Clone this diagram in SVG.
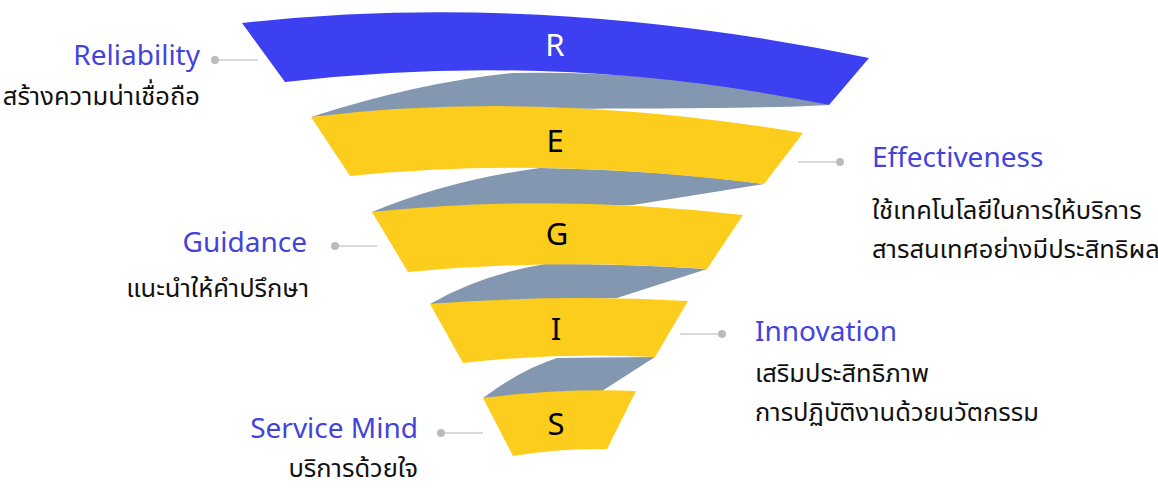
<svg xmlns="http://www.w3.org/2000/svg" width="1158" height="490" viewBox="0 0 1158 490">
<style>
.bg{fill:#ffffff}
.twist{fill:#8497b0}
.blue{fill:#3d40f0}
.yellow{fill:#fccd1c}
.letter{font-family:"Noto Sans","Open Sans","DejaVu Sans",sans-serif;font-size:31px;text-anchor:middle}
.title{font-family:"Noto Sans","Open Sans","DejaVu Sans",sans-serif;font-size:28px;fill:#4343dc}
.thai{font-family:"Noto Sans","Noto Sans Thai","DejaVu Sans",sans-serif;font-size:25.5px;fill:#111111}
.lead{stroke:#cccccc;stroke-width:1.5;fill:none}
.dot{fill:#bbbbbb}
.end{text-anchor:end}
</style>
<rect class="bg" x="0" y="0" width="1158" height="490"/>
<g id="connectors">
  <path class="twist" d="M311,117 Q420,82 513,73 Q680,70 829,105 C700,112 500,104 311,117 Z"/>
  <path class="twist" d="M372,212 Q450,180 540,168 Q660,170 764,184 L633,205 Z"/>
  <path class="twist" d="M430,304 Q480,275 545,264 Q630,264 707,269 L617,298 Z"/>
  <path class="twist" d="M483,398 Q520,370 557,358 L655,357 L602,391 Z"/>
  <line class="lead" x1="215" y1="60" x2="258" y2="60"/>
  <circle class="dot" cx="215" cy="60" r="4"/>
  <line class="lead" x1="798" y1="162" x2="840" y2="162"/>
  <circle class="dot" cx="840" cy="162" r="4"/>
  <line class="lead" x1="335" y1="246" x2="377" y2="246"/>
  <circle class="dot" cx="335" cy="246" r="4"/>
  <line class="lead" x1="680" y1="334" x2="722" y2="334"/>
  <circle class="dot" cx="722" cy="334" r="4"/>
  <line class="lead" x1="441" y1="433" x2="483" y2="433"/>
  <circle class="dot" cx="441" cy="433" r="4"/>
</g>
<g id="node-R">
  <path class="blue" d="M242,23 Q540,-10 869,58 L829,105 Q560,50 285,82 Z"/>
  <text class="letter" x="555" y="56" fill="#ffffff">R</text>
  <text class="title end" x="200" y="65">Reliability</text>
  <text class="thai end" x="200" y="105">สร้างความน่าเชื่อถือ</text>
</g>
<g id="node-E">
  <path class="yellow" d="M311,117 Q540,89 803,133 L764,184 Q540,156 350,176 Z"/>
  <text class="letter" x="555" y="152" fill="#000000">E</text>
  <text class="title" x="872" y="167">Effectiveness</text>
  <text class="thai" x="872" y="219">ใช้เทคโนโลยีในการให้บริการ</text>
  <text class="thai" x="872" y="258">สารสนเทศอย่างมีประสิทธิผล</text>
</g>
<g id="node-G">
  <path class="yellow" d="M372,212 Q555,193 743,215 L707,269 Q555,258 408,272 Z"/>
  <text class="letter" x="557" y="245" fill="#000000">G</text>
  <text class="title end" x="307" y="252">Guidance</text>
  <text class="thai end" x="309" y="297">แนะนำให้คำปรึกษา</text>
</g>
<g id="node-I">
  <path class="yellow" d="M430,304 Q560,294 688,301 L655,357 Q560,352 463,363 Z"/>
  <text class="letter" x="556" y="340" fill="#000000">I</text>
  <text class="title" x="755" y="341">Innovation</text>
  <text class="thai" x="755" y="382">เสริมประสิทธิภาพ</text>
  <text class="thai" x="755" y="421">การปฏิบัติงานด้วยนวัตกรรม</text>
</g>
<g id="node-S">
  <path class="yellow" d="M483,398 Q560,388 636,391 L607,449 Q560,448 513,456 Z"/>
  <text class="letter" x="556" y="435" fill="#000000">S</text>
  <text class="title end" x="418" y="438">Service Mind</text>
  <text class="thai end" x="418" y="477">บริการด้วยใจ</text>
</g>
</svg>
